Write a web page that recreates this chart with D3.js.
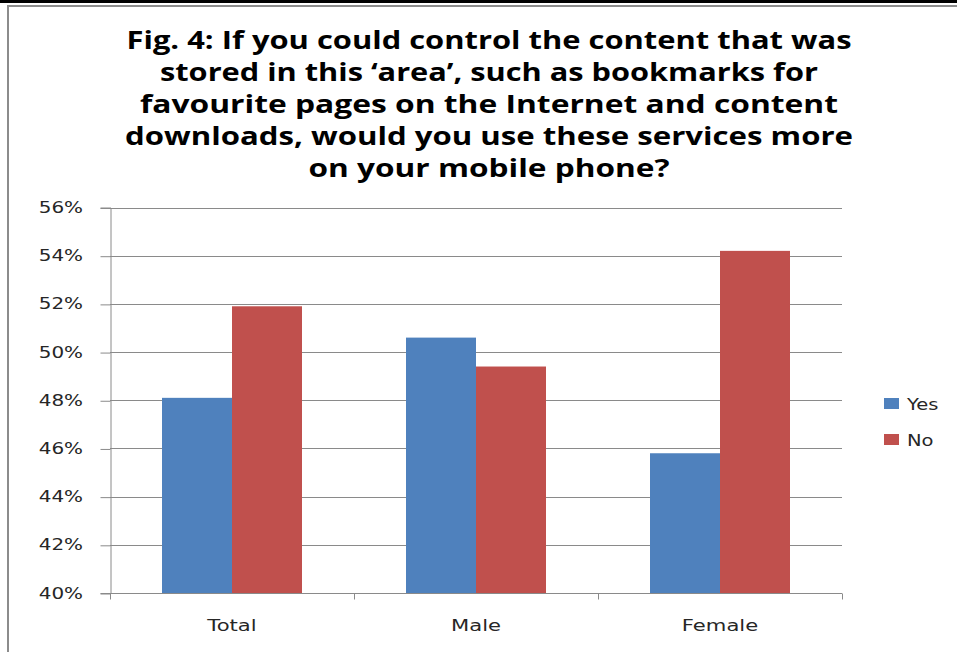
<!DOCTYPE html>
<html><head><meta charset="utf-8">
<script src="https://cdn.jsdelivr.net/npm/d3@7"></script>
<style>html,body{margin:0;padding:0;background:#fff;}svg{display:block;}</style>
</head><body>
<svg id="chart" width="957" height="652"></svg>
<script>
const categories = ["Total", "Male", "Female"];
const seriesNames = ["Yes", "No"];
const yesValues = [48.1, 50.6, 45.8];
const noValues = [51.9, 49.4, 54.2];
const yTicks = [40, 42, 44, 46, 48, 50, 52, 54, 56];
const titleLines = [
  "Fig. 4: If you could control the content that was",
  "stored in this \u2018area\u2019, such as bookmarks for",
  "favourite pages on the Internet and content",
  "downloads, would you use these services more",
  "on your mobile phone?"
];
const colors = ["#4F81BD", "#C0504D"];
const FONT = "'DejaVu Sans', Verdana, sans-serif";

const svg = d3.select("#chart");
// frame
svg.append("rect").attr("x",0).attr("y",0).attr("width",957).attr("height",3).attr("fill","#000");
svg.append("line").attr("x1",7).attr("x2",957).attr("y1",6).attr("y2",6).attr("stroke","#8c8c8c").attr("stroke-width",2);
svg.append("line").attr("x1",8).attr("x2",8).attr("y1",5).attr("y2",652).attr("stroke","#8c8c8c").attr("stroke-width",2);

// title
const targetW = [725, 658, 698, 728, 361];
const t = svg.append("g");
titleLines.forEach((s,i)=>{
  t.append("text").attr("x",489).attr("y",49+i*32)
    .attr("text-anchor","middle").attr("font-family","'Open Sans', sans-serif")
    .attr("font-weight","bold").attr("font-size",25).attr("fill","#000").text(s)
    .attr("textLength", targetW[i]).attr("lengthAdjust","spacingAndGlyphs");
});

const x0 = d3.scaleBand().domain(categories).range([110,842]).paddingInner(0).paddingOuter(0);
const y = d3.scaleLinear().domain([40,56]).range([593,207.5]);
const x1 = d3.scaleBand().domain(seriesNames).range([0, 140]);
const groupOffset = (x0.bandwidth()-140)/2;

// helper: horizontally stretched text
function stretched(sel, x, yy, txt, size, sx, anchor){
  return sel.append("text")
    .attr("transform",`translate(${x},${yy}) scale(${sx},1)`)
    .attr("text-anchor",anchor).attr("font-family",FONT).attr("font-size",size)
    .attr("fill","#262626").text(txt);
}

// gridlines
svg.append("g").selectAll("line").data(yTicks.filter(d=>d>40)).join("line")
  .attr("x1",110).attr("x2",842).attr("y1",d=>Math.round(y(d))+0.5).attr("y2",d=>Math.round(y(d))+0.5)
  .attr("stroke","#8a8a8a").attr("stroke-width",1);

// y axis
const yAxis = d3.axisLeft(y).tickValues(yTicks).tickSize(10).tickFormat("");
const ya = svg.append("g").attr("transform","translate(110.5,0)").call(yAxis);
ya.selectAll("line").attr("stroke","#8a8a8a").attr("transform","translate(0,0.5)");
ya.select(".domain").attr("stroke","#8a8a8a");
const yl = svg.append("g");
yTicks.forEach(v=>stretched(yl, 83, y(v)+5.5, v+"%", 15, 1.33, "end"));

// bars
const data = categories.map((c,i)=>({cat:c, vals:[yesValues[i], noValues[i]]}));
const g = svg.append("g").selectAll("g").data(data).join("g")
  .attr("transform",d=>`translate(${x0(d.cat)+groupOffset},0)`);
g.selectAll("rect").data(d=>d.vals.map((v,j)=>({v, s:seriesNames[j], j}))).join("rect")
  .attr("x",d=>x1(d.s)).attr("width",x1.bandwidth())
  .attr("y",d=>y(d.v)).attr("height",d=>y(40)-y(d.v))
  .attr("fill",d=>colors[d.j]);

// x axis
const xa = svg.append("g").attr("transform","translate(0,593.5)");
xa.append("line").attr("x1",110).attr("x2",842).attr("stroke","#8a8a8a");
const bounds = [110].concat(categories.map(c=>x0(c)+x0.bandwidth()));
xa.selectAll(".tk").data(bounds).join("line").attr("class","tk")
  .attr("x1",d=>Math.round(d)+0.5).attr("x2",d=>Math.round(d)+0.5).attr("y1",0).attr("y2",6).attr("stroke","#8a8a8a");
categories.forEach(c=>stretched(xa, x0(c)+x0.bandwidth()/2, 37, c, 16.5, 1.28, "middle"));

// legend
const lg = svg.append("g").selectAll("g").data(seriesNames).join("g")
  .attr("transform",(d,i)=>`translate(884,${398+i*36})`);
lg.append("rect").attr("width",15).attr("height",11).attr("fill",(d,i)=>colors[i]);
lg.each(function(d){ stretched(d3.select(this), 23, 12, d, 16, 1.22, "start"); });
</script>
</body></html>
